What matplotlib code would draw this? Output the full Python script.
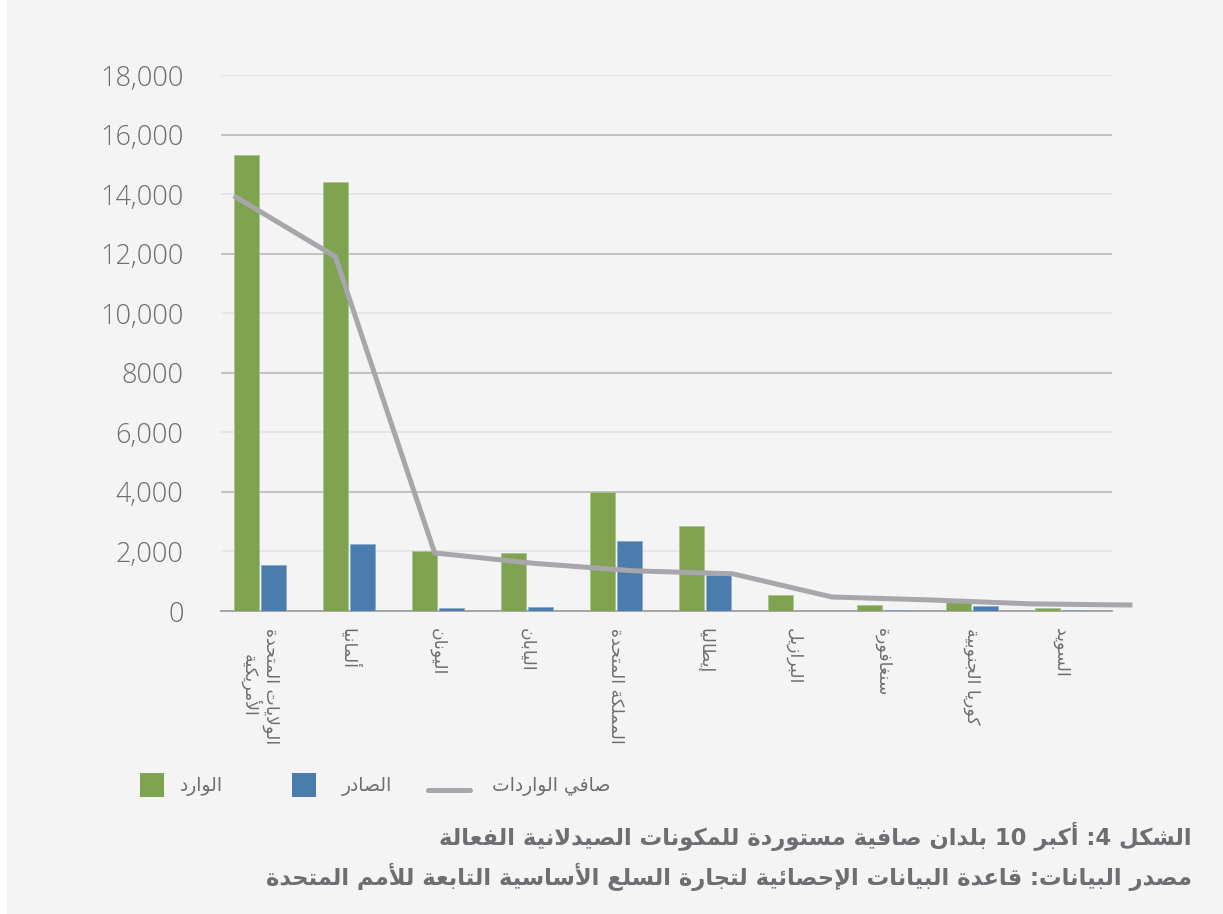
import re
import matplotlib
matplotlib.use("Agg")
import matplotlib.pyplot as plt
from matplotlib.patches import Rectangle
from matplotlib.lines import Line2D
import numpy as np

plt.rcParams['font.family'] = ['Open Sans', 'DejaVu Sans']

# --- data ---
countries = ["الولايات المتحدة\nالأمريكية", "ألمانيا", "اليونان", "اليابان", "المملكة المتحدة",
             "إيطاليا", "البرازيل", "سنغافورة", "كوريا الجنوبية", "السويد"]
imports = [15300, 14400, 2000, 1950, 4000, 2850, 550, 190, 300, 110]
exports = [1550, 2250, 110, 130, 2350, 1200, 0, 40, 180, 40]
net_imports = [13900, 11900, 1950, 1600, 1350, 1250, 470, 370, 240, 200]
yticks = [0, 2000, 4000, 6000, 8000, 10000, 12000, 14000, 16000, 18000]
ytick_labels = ["0", "2,000", "4,000", "6,000", "8000", "10,000", "12,000", "14,000", "16,000", "18,000"]
legend_labels = ["الوارد", "الصادر", "صافي الواردات"]
title = "الشكل 4: أكبر 10 بلدان صافية مستوردة للمكونات الصيدلانية الفعالة"
source = "مصدر البيانات: قاعدة البيانات الإحصائية لتجارة السلع الأساسية التابعة للأمم المتحدة"

GREEN = "#7FA351"
BLUE = "#4A7DAE"
GREY_LINE = "#A7A7AB"
TEXT = "#6E6E72"
BG = "#F4F4F4"

# --- minimal arabic shaping (matplotlib has no complex text layout) ---
TWO = {'\u0622': 0xFE81, '\u0623': 0xFE83, '\u0624': 0xFE85, '\u0625': 0xFE87, '\u0627': 0xFE8D,
       '\u0629': 0xFE93, '\u062F': 0xFEA9, '\u0630': 0xFEAB, '\u0631': 0xFEAD, '\u0632': 0xFEAF,
       '\u0648': 0xFEED, '\u0649': 0xFEEF}
FOUR = {'\u0626': 0xFE89, '\u0628': 0xFE8F, '\u062A': 0xFE95, '\u062B': 0xFE99, '\u062C': 0xFE9D,
        '\u062D': 0xFEA1, '\u062E': 0xFEA5, '\u0633': 0xFEB1, '\u0634': 0xFEB5, '\u0635': 0xFEB9,
        '\u0636': 0xFEBD, '\u0637': 0xFEC1, '\u0638': 0xFEC5, '\u0639': 0xFEC9, '\u063A': 0xFECD,
        '\u0641': 0xFED1, '\u0642': 0xFED5, '\u0643': 0xFED9, '\u0644': 0xFEDD, '\u0645': 0xFEE1,
        '\u0646': 0xFEE5, '\u0647': 0xFEE9, '\u064A': 0xFEF1}
LAMALEF = {'\u0622': 0xFEF5, '\u0623': 0xFEF7, '\u0625': 0xFEF9, '\u0627': 0xFEFB}


def shape(s):
    toks = []
    i = 0
    while i < len(s):
        if s[i] == '\u0644' and i + 1 < len(s) and s[i + 1] in LAMALEF:
            toks.append(('LA', s[i + 1]))
            i += 2
        else:
            toks.append(('C', s[i]))
            i += 1

    def joins_next(t):
        return t[0] == 'C' and t[1] in FOUR

    def joinable(t):
        return t[0] == 'LA' or t[1] in FOUR or t[1] in TWO

    out = []
    for k, t in enumerate(toks):
        prev = toks[k - 1] if k > 0 else None
        nxt = toks[k + 1] if k + 1 < len(toks) else None
        jp = prev is not None and joins_next(prev) and joinable(t)
        if t[0] == 'LA':
            out.append(chr(LAMALEF[t[1]] + (1 if jp else 0)))
            continue
        c = t[1]
        if c in TWO:
            out.append(chr(TWO[c] + (1 if jp else 0)))
        elif c in FOUR:
            jn = nxt is not None and joinable(nxt)
            off = 3 if (jp and jn) else 1 if jp else 2 if jn else 0
            out.append(chr(FOUR[c] + off))
        else:
            out.append(c)
    return ''.join(out)


def rtl(s):
    lines = []
    for line in s.split('\n'):
        r = shape(line)[::-1]
        lines.append(re.sub(r'[0-9]+', lambda m: m.group(0)[::-1], r))
    return '\n'.join(lines)


# --- figure ---
fig = plt.figure(figsize=(12.23, 9.14), dpi=100)
fig.patch.set_facecolor("white")
fig.patches.append(Rectangle((7 / 1223, 0), 1, 1, transform=fig.transFigure,
                             facecolor=BG, edgecolor="none", zorder=-10))

ax = fig.add_axes([221 / 1223, 1 - 611 / 914, (1112 - 221) / 1223, (611 - 75) / 914])
ax.set_facecolor(BG)

x = np.arange(len(countries))
w = 0.28
ax.bar(x - 0.151, imports, w, color=GREEN, edgecolor="#A9C48C", linewidth=0.6, zorder=3)
ax.bar(x + 0.151, exports, w, color=BLUE, edgecolor="#8DAACB", linewidth=0.6, zorder=3)

ax.set_ylim(0, 18000)
ax.set_xlim(-0.438, 9.573)
ax.set_yticks(yticks)
ax.set_yticklabels(ytick_labels, fontweight='light')
ax.set_xticks(x)
ax.set_xticklabels([rtl(c) for c in countries], rotation=-90, va='top', ha='center',
                   fontsize=12.5, color=TEXT, family=['DejaVu Sans'], linespacing=1.05)
ax.tick_params(axis='y', length=0, pad=27, labelsize=19.5, labelcolor=TEXT)
ax.tick_params(axis='x', length=0, pad=12)

ax.grid(axis='y', zorder=0)
for i, gl in enumerate(ax.get_ygridlines()):
    gl.set_color("#B4B4B4" if i % 2 == 0 else "#E2E2E2")
    gl.set_linewidth(1.1)
for s in ["top", "right", "left"]:
    ax.spines[s].set_visible(False)
ax.spines["bottom"].set_color("#A0A0A0")
ax.spines["bottom"].set_linewidth(1.3)
ax.set_axisbelow(True)

# net imports line sits on its own x scale in the original chart
ax2 = ax.twiny()
ax2.set_xlim(-0.151, 8.819)
ax2.set_ylim(0, 18000)
ax2.plot(np.arange(len(net_imports)), net_imports, color=GREY_LINE, lw=3.6,
         clip_on=False, zorder=4, solid_joinstyle='miter')
ax2.axis('off')

# legend
leg_x = [140, 292, 428]
leg_tx = [180, 342, 492]
for j, lab in enumerate(legend_labels):
    if j < 2:
        fig.patches.append(Rectangle((leg_x[j] / 1223, 1 - 797 / 914), 24 / 1223, 24 / 914,
                                     transform=fig.transFigure,
                                     facecolor=[GREEN, BLUE][j], edgecolor="none"))
    else:
        fig.add_artist(Line2D([leg_x[j] / 1223, 470 / 1223], [1 - 790 / 914] * 2,
                              transform=fig.transFigure, color=GREY_LINE, lw=3.6,
                              solid_capstyle='round'))
    fig.text(leg_tx[j] / 1223, 1 - 786 / 914, rtl(lab), ha='left', va='center',
             fontsize=13.5, color=TEXT, family=['DejaVu Sans'])

fig.text(1192 / 1223, 1 - 836 / 914, rtl(title), ha='right', va='center',
         fontsize=16.3, fontweight='bold', color=TEXT, family=['DejaVu Sans'])
fig.text(1192 / 1223, 1 - 877 / 914, rtl(source), ha='right', va='center',
         fontsize=16.3, fontweight='bold', color=TEXT, family=['DejaVu Sans'])

fig.savefig("out.png", dpi=100, facecolor=fig.get_facecolor())
